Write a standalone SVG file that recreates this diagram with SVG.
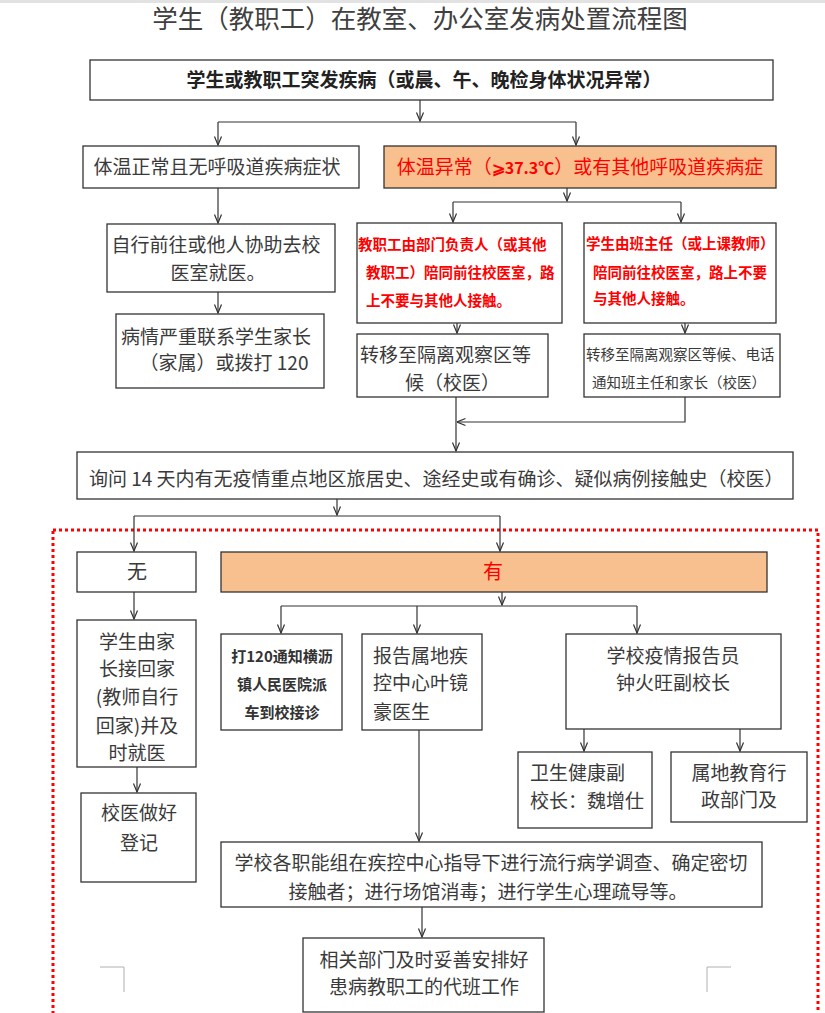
<svg xmlns="http://www.w3.org/2000/svg" width="825" height="1013" viewBox="0 0 825 1013">
<style>
text{font-family:"Noto Sans CJK SC","Noto Sans",sans-serif;fill:#3a3a3a;}
.t19{font-size:19px;}
.t15{font-size:14.5px;}
.mid{text-anchor:middle;}
.red{fill:#ff0000;font-weight:bold;}
.box{fill:#fff;stroke:#333;stroke-width:1.3;}
.org{fill:#f8c08f;stroke:#333;stroke-width:1.3;}
.ln{fill:none;stroke:#333;stroke-width:1.2;}
.ar{fill:none;stroke:#333;stroke-width:1.2;marker-end:url(#arr);}
</style>
<defs>
<marker id="arr" markerUnits="userSpaceOnUse" markerWidth="10" markerHeight="10" viewBox="0 0 10 10" refX="9.5" refY="5" orient="auto">
<path d="M1,1.5 L9.5,5 L1,8.5" fill="none" stroke="#333" stroke-width="1.2"/>
</marker>
</defs>
<rect x="0" y="0" width="825" height="3" fill="#e2e2e2"/>
<text x="420" y="28" class="mid" style="font-size:25.5px;fill:#404040;">学生（教职工）在教室、办公室发病处置流程图</text>

<g id="n-top"><rect class="box" x="90" y="60" width="683" height="40"/><text class="t19 mid" x="424" y="87" style="font-weight:bold;fill:#222;">学生或教职工突发疾病（或晨、午、晚检身体状况异常）</text></g>
<g id="n-normal"><rect class="box" x="83" y="146" width="276" height="42"/><text class="t19 mid" x="217" y="174">体温正常且无呼吸道疾病症状</text></g>
<g id="n-abnormal"><rect class="org" x="384" y="146" width="392" height="42"/><text class="t19 mid" x="580" y="174" style="fill:#ff0000;">体温异常（<tspan style="font-weight:bold;font-size:16px;fill:#ff0000;">⩾37.3℃</tspan>）或有其他呼吸道疾病症</text></g>
<g id="n-self"><rect class="box" x="107" y="224" width="228" height="68"/><text class="t19 mid" x="216" y="252">自行前往或他人协助去校</text><text class="t19 mid" x="218" y="280">医室就医。</text></g>
<g id="n-serious"><rect class="box" x="116" y="314" width="208" height="74"/><text class="t19 mid" x="216" y="344">病情严重联系学生家长</text><text class="t19 mid" x="224" y="370">（家属）或拨打 120</text></g>
<g id="n-staff"><rect class="box" x="357" y="223" width="205" height="100"/><text class="t15 red" x="358" y="250">教职工由部门负责人（或其他</text><text class="t15 red" x="366" y="278">教职工）陪同前往校医室，路</text><text class="t15 red" x="366" y="306">上不要与其他人接触。</text></g>
<g id="n-student"><rect class="box" x="584" y="223" width="192" height="100"/><text class="t15 red" x="586" y="249">学生由班主任（或上课教师）</text><text class="t15 red" x="593" y="278">陪同前往校医室，路上不要</text><text class="t15 red" x="593" y="304">与其他人接触。</text></g>
<g id="n-iso1"><rect class="box" x="357" y="334" width="191" height="63"/><text class="t19" x="360" y="362">转移至隔离观察区等</text><text class="t19" x="405" y="390">候（校医）</text></g>
<g id="n-iso2"><rect class="box" x="584" y="334" width="196" height="63"/><text class="t15" x="586" y="360">转移至隔离观察区等候、电话</text><text class="t15" x="592" y="388">通知班主任和家长（校医）</text></g>
<g id="n-ask"><rect class="box" x="77" y="452" width="716" height="47"/><text class="t19" x="89" y="486">询问 14 天内有无疫情重点地区旅居史、途经史或有确诊、疑似病例接触史（校医）</text></g>

<rect x="53" y="530" width="765" height="500" fill="none" stroke="#ff0000" stroke-width="3" stroke-dasharray="3,3"/>

<g id="n-no"><rect class="box" x="77" y="552" width="119" height="40"/><text class="mid" x="137" y="579" style="font-size:20px;">无</text></g>
<g id="n-yes"><rect class="org" x="221" y="552" width="546" height="40"/><text class="mid" x="493" y="579" style="font-size:20px;fill:#ff0000;">有</text></g>
<g id="n-home"><rect class="box" x="77" y="620" width="119" height="147"/>
<text class="t19 mid" x="137" y="649">学生由家</text><text class="t19 mid" x="137" y="676">长接回家</text><text class="t19 mid" x="137" y="704">(教师自行</text><text class="t19 mid" x="137" y="733">回家)并及</text><text class="t19 mid" x="137" y="760">时就医</text></g>
<g id="n-register"><rect class="box" x="81" y="793" width="115" height="89"/><text class="t19 mid" x="139" y="820">校医做好</text><text class="t19 mid" x="139" y="850">登记</text></g>
<g id="n-120"><rect class="box" x="221" y="634" width="121" height="96"/><text class="mid" x="282" y="662" style="font-size:15px;font-weight:bold;fill:#333;">打120通知横沥</text><text class="mid" x="282" y="690" style="font-size:15px;font-weight:bold;fill:#333;">镇人民医院派</text><text class="mid" x="282" y="718" style="font-size:15px;font-weight:bold;fill:#333;">车到校接诊</text></g>
<g id="n-cdc"><rect class="box" x="362" y="634" width="120" height="96"/><text class="t19" x="373" y="663">报告属地疾</text><text class="t19" x="373" y="690">控中心叶镜</text><text class="t19" x="373" y="719">豪医生</text></g>
<g id="n-reporter"><rect class="box" x="566" y="634" width="215" height="95"/><text class="t19 mid" x="673" y="663">学校疫情报告员</text><text class="t19 mid" x="673" y="690">钟火旺副校长</text></g>
<g id="n-health"><rect class="box" x="518" y="752" width="134" height="76"/><text class="t19" x="530" y="780">卫生健康副</text><text class="t19" x="530" y="808">校长：魏增仕</text></g>
<g id="n-edu"><rect class="box" x="671" y="752" width="136" height="70"/><text class="t19 mid" x="739" y="780">属地教育行</text><text class="t19 mid" x="739" y="807">政部门及</text></g>
<g id="n-groups"><rect class="box" x="221" y="842" width="541" height="65"/><text class="t19 mid" x="491" y="870">学校各职能组在疾控中心指导下进行流行病学调查、确定密切</text><text class="t19 mid" x="488" y="899">接触者；进行场馆消毒；进行学生心理疏导等。</text></g>
<g id="n-cover"><rect class="box" x="303" y="938" width="241" height="74"/><text class="t19 mid" x="424" y="967">相关部门及时妥善安排好</text><text class="t19 mid" x="424" y="994">患病教职工的代班工作</text></g>

<g id="connectors">
<path class="ar" d="M420,100 V121"/>
<path class="ln" d="M218,122 H576"/>
<path class="ar" d="M218,122 V145"/>
<path class="ar" d="M576,122 V145"/>
<path class="ar" d="M218,188 V223"/>
<path class="ar" d="M567,188 V201"/>
<path class="ln" d="M453,202 H681"/>
<path class="ar" d="M453,202 V222"/>
<path class="ar" d="M681,202 V222"/>
<path class="ar" d="M218,292 V313"/>
<path class="ar" d="M457,323 V333"/>
<path class="ar" d="M685,323 V333"/>
<path class="ar" d="M685,397 V422 H457"/>
<path class="ar" d="M456,397 V451"/>
<path class="ar" d="M337,499 V515"/>
<path class="ln" d="M134,516 H500"/>
<path class="ar" d="M134,516 V551"/>
<path class="ar" d="M500,516 V551"/>
<path class="ar" d="M134,592 V619"/>
<path class="ar" d="M502,592 V605"/>
<path class="ln" d="M281,606 H637"/>
<path class="ar" d="M281,606 V633"/>
<path class="ar" d="M417,606 V633"/>
<path class="ar" d="M637,606 V633"/>
<path class="ar" d="M137,767 V792"/>
<path class="ar" d="M419,730 V841"/>
<path class="ar" d="M584,729 V751"/>
<path class="ar" d="M740,729 V751"/>
<path class="ar" d="M422,907 V937"/>
</g>
<path d="M100,967 H124 V992" fill="none" stroke="#b0b0b0" stroke-width="1"/>
<path d="M731,967 H707 V992" fill="none" stroke="#b0b0b0" stroke-width="1"/>
</svg>
